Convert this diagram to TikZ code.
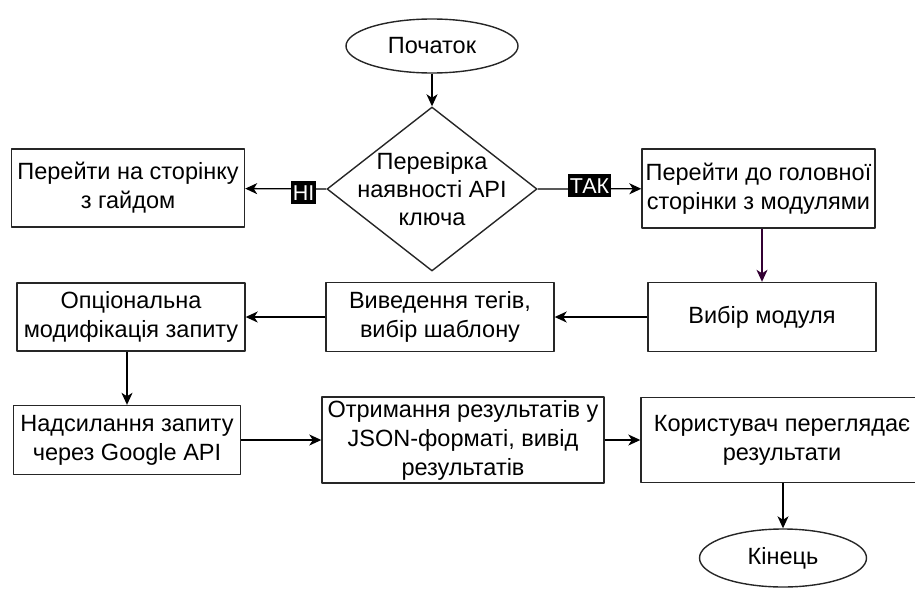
\documentclass[tikz,border=0pt]{standalone}
\usepackage{fontspec}
\setmainfont{Liberation Sans}
\usetikzlibrary{shapes.geometric,arrows.meta}
\definecolor{plum}{RGB}{51,0,51}

\begin{document}
\begin{tikzpicture}[x=1pt, y=-1pt, line join=round,
    box/.style={draw=black!85, line width=1.4pt, rectangle, align=center, inner sep=0pt,
        font=\fontsize{23.5}{29}\selectfont},
    oval/.style={draw=black!85, line width=1.4pt, ellipse, inner sep=0pt,
        font=\fontsize{23.5}{29}\selectfont},
    arr/.style={line width=1.3pt, -{Stealth[length=12pt,width=11pt,inset=3.5pt]}},
    answer/.style={fill=black, text=white, inner xsep=1.5pt, inner ysep=4pt,
        font=\fontsize{21.5}{21.5}\selectfont}]
    \useasboundingbox (0,0) rectangle (915,589);
    % start and the check
    \node[oval, minimum width=172pt, minimum height=54pt] (start) at (432,46) {Початок};
    \node[draw=black!85, line width=1.4pt, diamond, inner sep=0pt,
        minimum width=210pt, minimum height=164pt] (check) at (432,189) {};
    \node[align=center, font=\fontsize{23.5}{28}\selectfont] at (check) {Перевірка\\наявності API\\ключа};
    \node[box, minimum width=233pt, minimum height=78pt] (guide) at (128,188) {Перейти на сторінку\\з гайдом};
    \node[box, minimum width=233pt, minimum height=79pt] (home) at (758.5,188.5) {Перейти до головної\\сторінки з модулями};
    % second row
    \node[box, minimum width=228pt, minimum height=69pt] (module) at (762,317) {Вибір модуля};
    \node[box, minimum width=228pt, minimum height=69pt] (tags) at (440,317) {Виведення тегів,\\вибір шаблону};
    \node[box, minimum width=228pt, minimum height=68pt] (modif) at (131,317) {Опціональна\\модифікація запиту};
    % third row
    \node[box, minimum width=227pt, minimum height=69pt] (send) at (127,440) {Надсилання запиту\\через Google API};
    \node[box, minimum width=282pt, minimum height=86pt] (json) at (463,440) {Отримання результатів у\\JSON-форматі, вивід\\результатів};
    \node[box, minimum width=282pt, minimum height=85pt] (user) at (782,440) {Користувач переглядає\\результати};
    \node[oval, minimum width=167pt, minimum height=58pt] (finish) at (783,558) {Кінець};
    % arrows
    \draw[arr] (start) -- (check);
    \draw[arr] (check.west) -- node[answer, pos=0.28, yshift=-4pt] {НІ} (guide);
    \draw[arr] (check.east) -- node[answer, pos=0.5, yshift=3pt] {ТАК} (home);
    \draw[arr, plum] (home.south -| module.north) -- (module);
    \draw[arr] (module) -- (tags);
    \draw[arr] (tags) -- (modif);
    \draw[arr] (modif.south -| send.north) -- (send);
    \draw[arr] (send) -- (json);
    \draw[arr] (json) -- (user);
    \draw[arr] (user.south -| finish.north) -- (finish);
\end{tikzpicture}
\end{document}
